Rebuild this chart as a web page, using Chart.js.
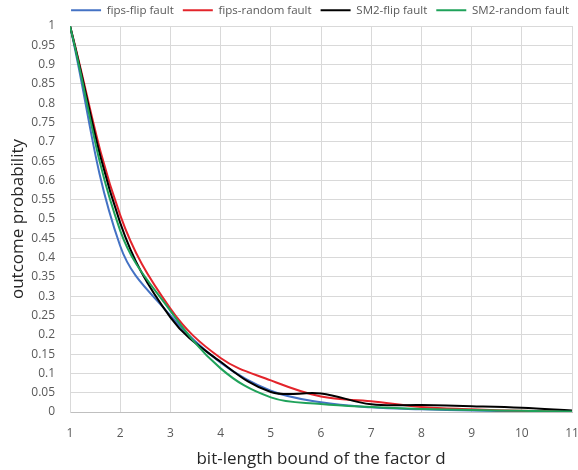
<!DOCTYPE html>
<html>
<head>
<meta charset="utf-8">
<script src="https://cdn.jsdelivr.net/npm/chart.js@4.4.1/dist/chart.umd.min.js"></script>
<style>
  html, body { margin: 0; padding: 0; background: #fff; }
  #wrap { width: 578px; height: 470px; position: relative; }
</style>
</head>
<body>
<div id="wrap"><canvas id="c"></canvas></div>
<script>
"use strict";
// Outcome probability vs. bit-length bound of d, four fault models.

const bounds = [1, 2, 3, 4, 5, 6, 7, 8, 9, 10, 11];
const seriesNames = ["fips-flip fault", "fips-random fault", "SM2-flip fault", "SM2-random fault"];
const fipsFlip   = [1, 0.43, 0.25,  0.128, 0.055, 0.025, 0.012, 0.007, 0.004, 0.002, 0.001];
const fipsRandom = [1, 0.51, 0.268, 0.14,  0.082, 0.04,  0.028, 0.013, 0.007, 0.003, 0.001];
const sm2Flip    = [1, 0.49, 0.245, 0.13,  0.052, 0.048, 0.02,  0.018, 0.015, 0.011, 0.004];
const sm2Random  = [1, 0.47, 0.262, 0.113, 0.038, 0.021, 0.013, 0.008, 0.005, 0.003, 0.001];

const COLORS = ["#4472c4", "#e3242b", "#000000", "#1fa25a"];
const FONT = "'Open Sans', 'Noto Sans', sans-serif";
const GRID = "#d9d9d9";

const pts = (ys) => bounds.map((x, i) => ({ x, y: ys[i] }));
const allSeries = [fipsFlip, fipsRandom, sm2Flip, sm2Random];

const datasets = allSeries.map((ys, i) => ({
  label: seriesNames[i],
  data: pts(ys),
  borderColor: COLORS[i],
  backgroundColor: COLORS[i],
  borderWidth: 2,
  pointRadius: 0,
  tension: 0.38,
  order: allSeries.length - i, // later series sit on top
}));

new Chart(document.getElementById("c"), {
  type: "line",
  data: { datasets },
  options: {
    responsive: true,
    maintainAspectRatio: false,
    animation: false,
    devicePixelRatio: 1,
    layout: { padding: { top: -7, right: 0, left: 0, bottom: 0 } },
    plugins: {
      tooltip: { enabled: false },
      legend: {
        position: "top",
        align: "end",
        labels: {
          usePointStyle: true,
          pointStyle: "line",
          pointStyleWidth: 30,
          padding: 9,
          color: "#595959",
          font: { family: FONT, size: 11.5 },
          sort: (a, b) => a.datasetIndex - b.datasetIndex,
        },
      },
    },
    scales: {
      x: {
        type: "linear",
        min: 1, max: 11,
        ticks: { stepSize: 1, color: "#595959", font: { family: FONT, size: 12 }, padding: 14 },
        grid: { color: GRID, drawTicks: false },
        border: { color: "#bfbfbf" },
        title: {
          display: true, text: "bit-length bound of the factor d",
          color: "#262626", font: { family: FONT, size: 17 },
          padding: { top: 6, bottom: 1 },
        },
        // fixed band under the plot; keep the last label hugging the right edge
        afterFit: (s) => { s.height = 58; s.paddingLeft = 0; s.paddingRight = 6; },
      },
      y: {
        min: 0, max: 1,
        ticks: {
          stepSize: 0.05, color: "#595959", font: { family: FONT, size: 12 }, padding: 15,
          callback: (v) => String(Number(v.toFixed(2))),
        },
        grid: { color: GRID, drawTicks: false },
        border: { color: GRID },
        title: {
          display: true, text: "outcome probability",
          color: "#262626", font: { family: FONT, size: 17 },
          padding: { top: 8, bottom: 3 },
        },
        afterFit: (s) => { s.width = 70; s.paddingTop = 26; s.paddingBottom = 0; },
      },
    },
  },
});
</script>
</body>
</html>
